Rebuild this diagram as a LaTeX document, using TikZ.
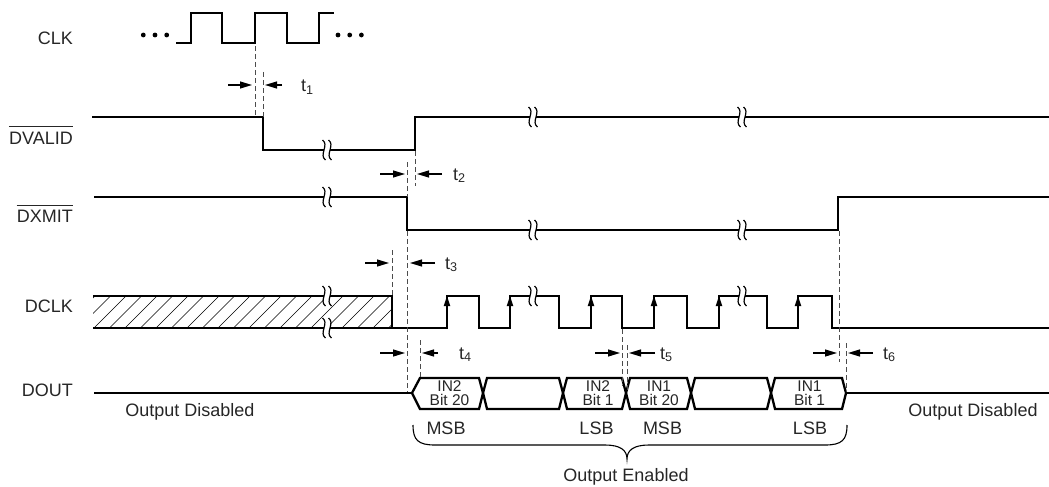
\documentclass[tikz,border=0pt]{standalone}
\usepackage{fontspec}
\setmainfont{Liberation Sans}
\usetikzlibrary{arrows.meta}
\begin{document}
\begin{tikzpicture}[x=1pt,y=-1pt,
  sig/.style={line width=2.3pt, line join=miter},
  guide/.style={line width=0.9pt, dash pattern=on 5pt off 3pt, black!70},
  tarr/.style={line width=1.2pt, -{Triangle[length=12pt,width=7pt]}},
  lbl/.style={font=\fontsize{18}{21}\selectfont, text=black!85, inner sep=0pt, anchor=base east},
  txt/.style={font=\fontsize{18}{21}\selectfont, text=black!85, inner sep=0pt, anchor=base},
  tl/.style={font=\fontsize{18}{21}\selectfont, text=black!85, inner sep=0pt, anchor=base west},
  bit/.style={font=\fontsize{15.5}{14.5}\selectfont, text=black!85, inner sep=0pt, align=center},
  hatchln/.style={line width=0.6pt},
  brk/.pic={
    \fill[white] (-2.6,-4) rectangle (2.6,4);
    \draw[line width=1.2pt] (-4.5,-10) .. controls (2.5,-5) and (-8.5,5) .. (-1.5,10);
    \draw[line width=1.2pt] (1.5,-10) .. controls (8.5,-5) and (-2.5,5) .. (4.5,10);
  }
]
\useasboundingbox (0,0) rectangle (1049,487);

% ---------- labels ----------
\node[lbl] (lCLK) at (73,45) {CLK};
\node[lbl] (lDV) at (73,144) {DVALID};
\node[lbl] (lDX) at (73,222.5) {DXMIT};
\node[lbl] (lDC) at (73,312) {DCLK};
\node[lbl] (lDO) at (73,396) {DOUT};
\draw[line width=1.1pt, black!85] ([yshift=4.5pt]lDV.north west) -- ([yshift=4.5pt]lDV.north east);
\draw[line width=1.1pt, black!85] ([yshift=4.5pt]lDX.north west) -- ([yshift=4.5pt]lDX.north east);

% ---------- CLK ----------
\foreach \x in {143.3,155,166.7,338,349.7,361.4} \fill (\x,35) circle (2.4);
\draw[sig] (176,43) -- (191,43) -- (191,13) -- (222,13) -- (222,43) -- (255,43) -- (255,13)
  -- (287,13) -- (287,43) -- (319,43) -- (319,13) -- (334,13);

% ---------- DVALID ----------
\draw[sig] (92,117) -- (263,117) -- (263,150) -- (415,150) -- (415,117) -- (1049,117);
% ---------- DXMIT ----------
\draw[sig] (94,197) -- (407,197) -- (407,230) -- (838,230) -- (838,197) -- (1049,197);

% ---------- DCLK ----------
\begin{scope}
  \clip (93,296) rectangle (392,328);
  \foreach \i in {0,...,21} \draw[hatchln] (63+\i*15.5,328) -- (95+\i*15.5,296);
\end{scope}
\draw[sig] (93,328) -- (392,328);
\draw[sig] (93,296) -- (392,296) -- (392,328) -- (447,328) -- (447,296) -- (479,296) -- (479,328)
  -- (510,328) -- (510,296) -- (559,296) -- (559,328) -- (591,328) -- (591,296) -- (622,296)
  -- (622,328) -- (654,328) -- (654,296) -- (687,296) -- (687,328) -- (719,328) -- (719,296)
  -- (767,296) -- (767,328) -- (798,328) -- (798,296) -- (832,296) -- (832,328) -- (1049,328);
\foreach \x in {447,510,591,654,719,798} \fill (\x,296) -- (\x-3.3,306) -- (\x+3.3,306) -- cycle;

% ---------- DOUT ----------
\draw[sig] (94,393) -- (412,393);
\draw[sig] (846,393) -- (1049,393);
\draw[sig] (412,393) -- (420,378) -- (479,378) -- (483,393) -- (479,409) -- (420,409) -- cycle;
\draw[sig] (483,393) -- (487,378) -- (559,378) -- (563,393) -- (559,409) -- (487,409) -- cycle;
\draw[sig] (563,393) -- (567,378) -- (622,378) -- (626,393) -- (622,409) -- (567,409) -- cycle;
\draw[sig] (626,393) -- (630,378) -- (687,378) -- (691,393) -- (687,409) -- (630,409) -- cycle;
\draw[sig] (691,393) -- (695,378) -- (767,378) -- (771,393) -- (767,409) -- (695,409) -- cycle;
\draw[sig] (771,393) -- (775,378) -- (842,378) -- (846,393) -- (842,409) -- (775,409) -- cycle;
\node[bit] (b1) at (449.5,393) {IN2\\Bit 20};
\node[bit] (b3) at (598,393) {IN2\\Bit 1};
\node[bit] (b4) at (659,393) {IN1\\Bit 20};
\node[bit] (b6) at (809.5,393) {IN1\\Bit 1};

% ---------- breaks ----------
\pic at (327,150) {brk};
\pic at (533,117) {brk};
\pic at (742,117) {brk};
\pic at (327,197) {brk};
\pic at (533,230) {brk};
\pic at (742,230) {brk};
\pic at (327,296) {brk};
\pic at (327,328) {brk};
\pic at (533,296) {brk};
\pic at (742,296) {brk};

% ---------- guides ----------
\draw[guide] (255,46) -- (255,117);
\draw[guide] (263,72) -- (263,117);
\draw[guide] (415,151) -- (415,186);
\draw[guide] (407,162) -- (407,197);
\draw[guide] (407,231) -- (407,392);
\draw[guide] (392,250) -- (392,296);
\draw[guide] (420,340) -- (420,378);
\draw[guide] (622,329) -- (622,386);
\draw[guide] (627,345) -- (627,392);
\draw[guide] (839,231) -- (839,362);
\draw[guide] (846,343) -- (846,392);

% ---------- timing arrows ----------
\coordinate (a1a) at (228,85);  \coordinate (a1b) at (252,85);
\coordinate (a1c) at (282,85);  \coordinate (a1d) at (265,85);
\draw[tarr] (a1a) -- (a1b); \draw[tarr] (a1c) -- (a1d);
\node[tl] (t1) at (301,92) {t\textsubscript{1}};

\coordinate (a2a) at (380,174); \coordinate (a2b) at (405,174);
\coordinate (a2c) at (442,174); \coordinate (a2d) at (417,174);
\draw[tarr] (a2a) -- (a2b); \draw[tarr] (a2c) -- (a2d);
\node[tl] (t2) at (453,180) {t\textsubscript{2}};

\coordinate (a3a) at (365,263); \coordinate (a3b) at (389,263);
\coordinate (a3c) at (435,263); \coordinate (a3d) at (410,263);
\draw[tarr] (a3a) -- (a3b); \draw[tarr] (a3c) -- (a3d);
\node[tl] (t3) at (445,269) {t\textsubscript{3}};

\coordinate (a4a) at (380,353); \coordinate (a4b) at (405,353);
\coordinate (a4c) at (438,353); \coordinate (a4d) at (422,353);
\draw[tarr] (a4a) -- (a4b); \draw[tarr] (a4c) -- (a4d);
\node[tl] (t4) at (459,359) {t\textsubscript{4}};

\coordinate (a5a) at (595,353); \coordinate (a5b) at (620,353);
\coordinate (a5c) at (655,353); \coordinate (a5d) at (629,353);
\draw[tarr] (a5a) -- (a5b); \draw[tarr] (a5c) -- (a5d);
\node[tl] (t5) at (660,359) {t\textsubscript{5}};

\coordinate (a6a) at (813,353); \coordinate (a6b) at (837,353);
\coordinate (a6c) at (873,353); \coordinate (a6d) at (848,353);
\draw[tarr] (a6a) -- (a6b); \draw[tarr] (a6c) -- (a6d);
\node[tl] (t6) at (883,359) {t\textsubscript{6}};

% ---------- texts under DOUT ----------
\node[txt] (od1) at (190,416) {Output Disabled};
\node[txt] (od2) at (973,416) {Output Disabled};
\node[txt] (msb1) at (446,434) {MSB};
\node[txt] (lsb1) at (596.5,434) {LSB};
\node[txt] (msb2) at (662.5,434) {MSB};
\node[txt] (lsb2) at (810,434) {LSB};
\node[txt] (oe) at (626,481.5) {Output Enabled};

% ---------- brace ----------
\draw[line width=1.1pt] (413,425) .. controls (413,440) and (418,445) .. (435,445) -- (605,445)
  .. controls (620,445) and (627,450) .. (627,459)
  .. controls (627,450) and (634,445) .. (649,445) -- (825,445)
  .. controls (842,445) and (847,440) .. (847,425);
\end{tikzpicture}
\end{document}
